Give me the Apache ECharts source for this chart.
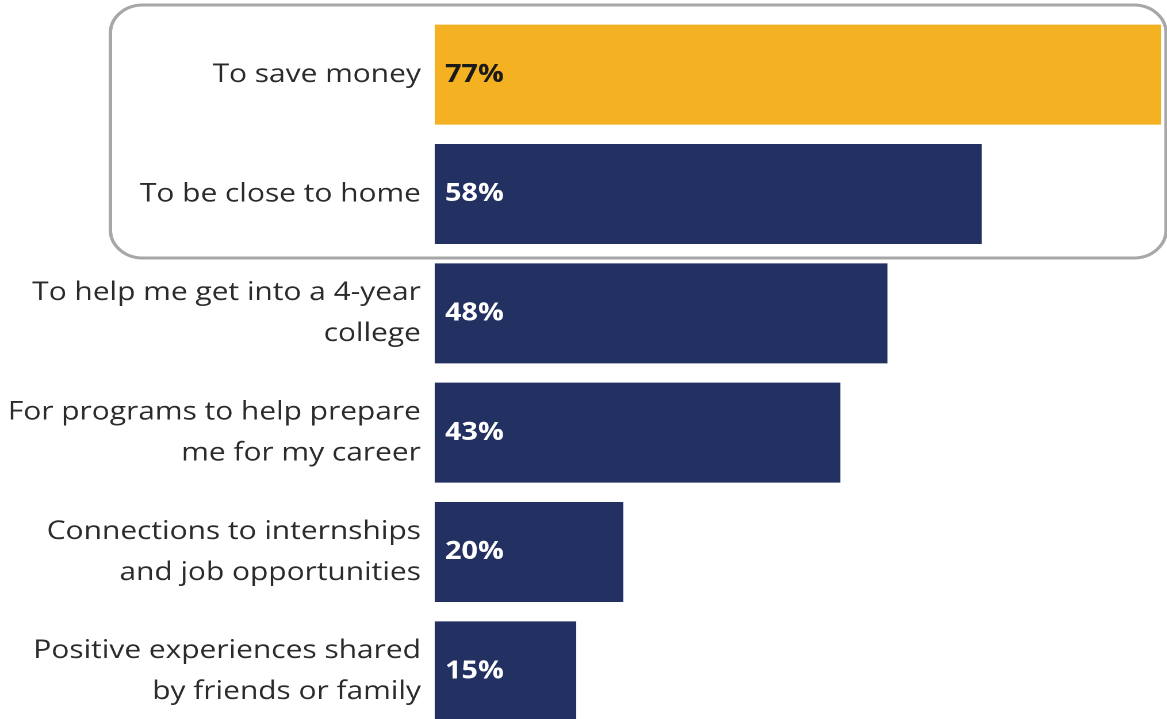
<!DOCTYPE html>
<html>
<head>
<meta charset="utf-8">
<style>
  html, body { margin: 0; padding: 0; background: #fff; overflow: hidden; }
  /* the chart is laid out narrow and widened to the page width */
  #chart { width: 1015px; height: 731px; transform: scaleX(1.15); transform-origin: 0 0; }
</style>
<script src="https://cdn.jsdelivr.net/npm/echarts@6/dist/echarts.min.js"></script>
</head>
<body>
<div id="chart"></div>
<script>
// Reasons for choosing the college (share of respondents, %)
const categories = [
  'To save money',
  'To be close to home',
  'To help me get into a 4-year\ncollege',
  'For programs to help prepare\nme for my career',
  'Connections to internships\nand job opportunities',
  'Positive experiences shared\nby friends or family'
];
const values = [77, 58, 48, 43, 20, 15];
const highlightIndex = 0;

const GOLD = '#F4B223';
const NAVY = '#223062';

const chart = echarts.init(document.getElementById('chart'), null, {
  renderer: 'canvas',
  devicePixelRatio: 2
});

chart.setOption({
  animation: false,
  grid: { left: 378, right: 0, top: 15, bottom: 0, containLabel: false },
  xAxis: {
    type: 'value',
    min: 0,
    max: 77.66,
    show: false
  },
  yAxis: {
    type: 'category',
    data: categories,
    inverse: true,
    axisLine: { show: false },
    axisTick: { show: false },
    splitLine: { show: false },
    axisLabel: {
      margin: 12,
      fontFamily: 'Open Sans',
      fontSize: 26,
      lineHeight: 41,
      color: '#2b2b2b',
      align: 'right'
    }
  },
  series: [{
    type: 'bar',
    barWidth: 100,
    data: values.map((v, i) => ({
      value: v,
      itemStyle: { color: i === highlightIndex ? GOLD : NAVY },
      label: { color: i === highlightIndex ? '#1a1a1a' : '#ffffff' }
    })),
    label: {
      show: true,
      position: 'insideLeft',
      distance: 9,
      formatter: '{c}%',
      fontFamily: 'Open Sans',
      fontWeight: 'bold',
      fontSize: 25
    }
  }],
  // rounded frame around the two leading reasons
  graphic: [{
    type: 'rect',
    silent: true,
    z: 0,
    shape: { x: 96, y: 5, width: 918, height: 253, r: 28 },
    style: { fill: 'none', stroke: '#a7a7a7', lineWidth: 3 }
  }]
});
</script>
</body>
</html>
